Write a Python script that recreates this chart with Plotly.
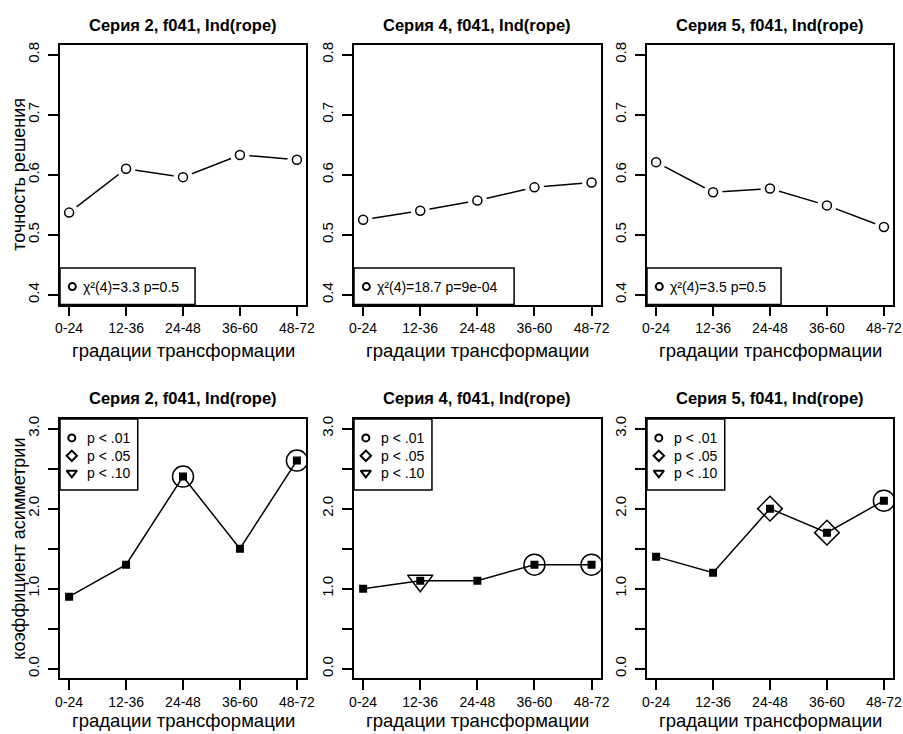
import plotly.graph_objects as go

# Gradation categories shared by every panel
categories = ["0-24", "12-36", "24-48", "36-60", "48-72"]
panel_titles = ["Серия 2, f041, Ind(rope)", "Серия 4, f041, Ind(rope)", "Серия 5, f041, Ind(rope)"]

# Top row: solution accuracy
accuracy_s2 = [0.537, 0.610, 0.596, 0.633, 0.625]
accuracy_s4 = [0.525, 0.540, 0.557, 0.579, 0.587]
accuracy_s5 = [0.621, 0.571, 0.577, 0.549, 0.513]
chi_labels = ["χ²(4)=3.3 p=0.5", "χ²(4)=18.7 p=9e-04", "χ²(4)=3.5 p=0.5"]

# Bottom row: skewness coefficient and its significance level
skew_s2 = [0.9, 1.3, 2.4, 1.5, 2.6]
skew_s4 = [1.0, 1.1, 1.1, 1.3, 1.3]
skew_s5 = [1.4, 1.2, 2.0, 1.7, 2.1]
sig_s2 = ["", "", "p < .01", "", "p < .01"]
sig_s4 = ["", "p < .10", "", "p < .01", "p < .01"]
sig_s5 = ["", "", "p < .05", "p < .05", "p < .01"]
sig_levels = ["p < .01", "p < .05", "p < .10"]

acc_ticks = [0.4, 0.5, 0.6, 0.7, 0.8]
skew_ticks = [0.0, 0.5, 1.0, 1.5, 2.0, 2.5, 3.0]
skew_ticktext = ["0.0", "", "1.0", "", "2.0", "", "3.0"]

FONT = "Liberation Sans, Arial, sans-serif"
W, H = 903, 734
LW = 1.5

x_idx = list(range(1, len(categories) + 1))
x_range = [0.84, 5.16]
acc_range = [0.384, 0.816]
skew_range = [-0.12, 3.12]

# panel boxes in pixels: (left, right) per column, (top, bottom) per row
cols = [(60, 306), (354, 600.7), (647, 893)]
rows = [(45, 304.5), (419, 678.3)]

sig_symbol = {"p < .01": ("circle-open", 21), "p < .05": ("diamond-open", 19),
              "p < .10": ("triangle-down-open", 22)}
legend_symbol = {"p < .01": ("circle-open", 7), "p < .05": ("diamond-open", 8),
                 "p < .10": ("triangle-down-open", 9)}

fig = go.Figure()


def ax_name(i):
    return ("x" if i == 0 else f"x{i+1}"), ("y" if i == 0 else f"y{i+1}")


def dom_x(frac):
    return x_range[0] + frac * (x_range[1] - x_range[0])


def dom_y(frac, rng):
    return rng[0] + frac * (rng[1] - rng[0])


acc_all = [accuracy_s2, accuracy_s4, accuracy_s5]
skew_all = [skew_s2, skew_s4, skew_s5]
sig_all = [sig_s2, sig_s4, sig_s5]

layout_axes = {}
annotations = []
shapes = []

for r in range(2):
    for c in range(3):
        i = r * 3 + c
        xa, ya = ax_name(i)
        xkey = "xaxis" if i == 0 else f"xaxis{i+1}"
        ykey = "yaxis" if i == 0 else f"yaxis{i+1}"
        left, right = cols[c]
        top, bottom = rows[r]
        rng = acc_range if r == 0 else skew_range
        layout_axes[xkey] = dict(
            domain=[left / W, right / W], range=x_range, anchor=ya, automargin=False,
            tickvals=x_idx, ticktext=categories, showgrid=False, zeroline=False,
            showline=True, mirror=True, linecolor="black", linewidth=LW,
            ticks="outside", ticklen=10, tickwidth=LW, tickcolor="black",
            tickfont=dict(family=FONT, size=14, color="black"),
        )
        layout_axes[ykey] = dict(
            domain=[1 - bottom / H, 1 - top / H], range=rng, anchor=xa, automargin=False,
            tickvals=acc_ticks if r == 0 else skew_ticks,
            ticktext=[f"{v:.1f}" for v in acc_ticks] if r == 0 else skew_ticktext,
            showgrid=False, zeroline=False,
            showline=True, mirror=True, linecolor="black", linewidth=LW,
            ticks="outside", ticklen=10, tickwidth=LW, tickcolor="black",
            tickangle=-90, ticklabelstandoff=3,
            tickfont=dict(family=FONT, size=15, color="black"),
        )
        # panel title
        annotations.append(dict(
            text=f"<b>{panel_titles[c]}</b>", xref="paper", yref="paper",
            x=(left + right) / 2 / W, y=1 - (25 if r == 0 else 398) / H,
            showarrow=False, xanchor="center", yanchor="middle",
            font=dict(family=FONT, size=16.5, color="black"),
        ))
        # x-axis title
        annotations.append(dict(
            text="градации трансформации", xref="paper", yref="paper",
            x=(left + right) / 2 / W, y=1 - (350 if r == 0 else 720) / H,
            showarrow=False, xanchor="center", yanchor="middle",
            font=dict(family=FONT, size=18.5, color="black"),
        ))

        if r == 0:
            vals = acc_all[c]
            # legend box bottom-left
            box_right = [0.549, 0.649, 0.545][c]
            shapes.append(dict(type="rect", xref=f"{xa} domain", yref=f"{ya} domain",
                               x0=0, x1=box_right, y0=0, y1=0.1407,
                               line=dict(color="black", width=LW), fillcolor="white",
                               layer="below"))
            fig.add_trace(go.Scatter(x=x_idx, y=vals, xaxis=xa, yaxis=ya, mode="lines",
                                     line=dict(color="black", width=LW), hoverinfo="skip"))
            fig.add_trace(go.Scatter(x=x_idx, y=vals, xaxis=xa, yaxis=ya, mode="markers",
                                     marker=dict(symbol="circle", size=19, color="white",
                                                 line=dict(width=0)), hoverinfo="skip"))
            fig.add_trace(go.Scatter(x=x_idx, y=vals, xaxis=xa, yaxis=ya, mode="markers",
                                     marker=dict(symbol="circle", size=9, color="white",
                                                 line=dict(color="black", width=LW))))
            fig.add_trace(go.Scatter(x=[dom_x(0.05)], y=[dom_y(0.069, rng)], xaxis=xa, yaxis=ya,
                                     mode="markers", hoverinfo="skip",
                                     marker=dict(symbol="circle-open", size=7,
                                                 color="black", line=dict(width=2))))
            annotations.append(dict(
                text=chi_labels[c], xref=f"{xa} domain", yref=f"{ya} domain",
                x=0.085, y=0.069, showarrow=False, xanchor="left", yanchor="middle",
                font=dict(family=FONT, size=14, color="black"),
            ))
        else:
            vals = skew_all[c]
            # legend box top-left
            shapes.append(dict(type="rect", xref=f"{xa} domain", yref=f"{ya} domain",
                               x0=0, x1=0.316, y0=0.726, y1=1,
                               line=dict(color="black", width=LW), fillcolor="white",
                               layer="below"))
            fig.add_trace(go.Scatter(x=x_idx, y=vals, xaxis=xa, yaxis=ya, mode="lines+markers",
                                     line=dict(color="black", width=LW),
                                     marker=dict(symbol="square", size=8, color="black")))
            for lvl in sig_levels:
                sx = [x for x, s in zip(x_idx, sig_all[c]) if s == lvl]
                sy = [v for v, s in zip(vals, sig_all[c]) if s == lvl]
                if sx:
                    sym, sz = sig_symbol[lvl]
                    fig.add_trace(go.Scatter(x=sx, y=sy, xaxis=xa, yaxis=ya, mode="markers",
                                             hoverinfo="skip",
                                             marker=dict(symbol=sym, size=sz, color="black",
                                                         line=dict(width=LW))))
            for k, lvl in enumerate(sig_levels):
                fy = [0.927, 0.858, 0.792][k]
                sym, sz = legend_symbol[lvl]
                fig.add_trace(go.Scatter(x=[dom_x(0.048)], y=[dom_y(fy, rng)], xaxis=xa, yaxis=ya,
                                         mode="markers", hoverinfo="skip",
                                         marker=dict(symbol=sym, size=sz, color="black",
                                                     line=dict(width=2))))
                annotations.append(dict(
                    text=lvl, xref=f"{xa} domain", yref=f"{ya} domain",
                    x=0.1, y=fy, showarrow=False, xanchor="left", yanchor="middle",
                    font=dict(family=FONT, size=14, color="black"),
                ))

# y-axis titles
annotations.append(dict(text="точность решения", xref="paper", yref="paper",
                        x=19 / W, y=1 - (rows[0][0] + rows[0][1]) / 2 / H, textangle=-90,
                        showarrow=False, xanchor="center", yanchor="middle",
                        font=dict(family=FONT, size=18, color="black")))
annotations.append(dict(text="коэффициент асимметрии", xref="paper", yref="paper",
                        x=19 / W, y=1 - (rows[1][0] + rows[1][1]) / 2 / H, textangle=-90,
                        showarrow=False, xanchor="center", yanchor="middle",
                        font=dict(family=FONT, size=18, color="black")))

fig.update_layout(
    width=W, height=H, autosize=False,
    margin=dict(l=0, r=0, t=0, b=0, autoexpand=False),
    paper_bgcolor="white", plot_bgcolor="white",
    showlegend=False,
    annotations=annotations, shapes=shapes,
    **layout_axes,
)

fig.write_html("out.html")
